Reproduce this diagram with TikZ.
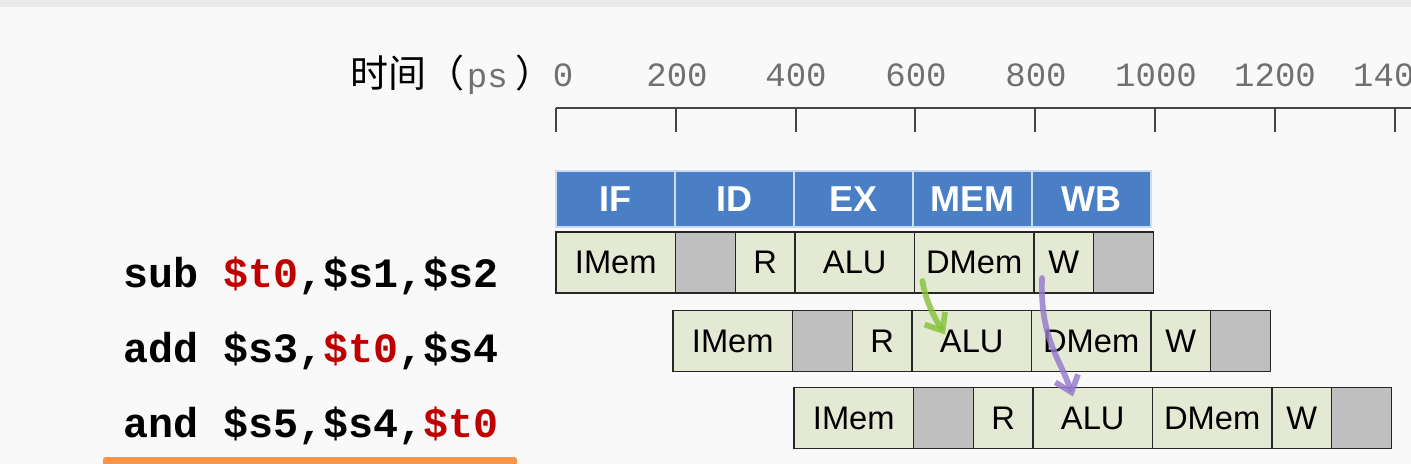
\documentclass[tikz,border=0pt]{standalone}
\usepackage{fontspec}
\setmainfont{Liberation Sans}
\newfontfamily\cjk{Noto Sans CJK SC}
\newfontfamily\mono{Liberation Mono}
\usetikzlibrary{arrows.meta,calc}
\definecolor{bgc}{HTML}{F9F9F9}
\definecolor{bandc}{HTML}{EAEAEA}
\definecolor{hdrc}{HTML}{4A7FC6}
\definecolor{hdrline}{HTML}{C8DDF5}
\definecolor{cellc}{HTML}{E4E9D4}
\definecolor{grayc}{HTML}{BFBFBF}
\definecolor{regred}{HTML}{C00000}
\definecolor{numc}{HTML}{707070}
\definecolor{axisc}{HTML}{454545}
\definecolor{orangec}{HTML}{F79646}
\definecolor{greenc}{HTML}{86C23A}
\definecolor{purplec}{HTML}{9478CC}
\tikzset{
  hdr/.style={fill=hdrc, draw=hdrline, line width=0.8pt, minimum width=89.25pt, minimum height=42pt,
    inner sep=0pt, outer sep=0pt, anchor=north west, text=white, font=\fontsize{27}{30}\selectfont\bfseries},
  cell/.style={fill=cellc, draw=black!85, line width=1.1pt, minimum height=45.75pt,
    inner sep=0pt, outer sep=0pt, anchor=west, font=\fontsize{24.5}{28}\selectfont},
  full/.style={cell, minimum width=89.625pt},
  half/.style={cell, minimum width=44.81pt},
  gcell/.style={half, fill=grayc},
  instr/.style={anchor=base west, inner sep=0pt, font=\mono\bfseries\fontsize{31.3}{34}\selectfont},
  num/.style={text=numc, inner sep=0pt, font=\mono\fontsize{25.5}{28}\selectfont},
  tick/.style={draw=axisc, line width=1.4pt},
  fwd/.style={line width=4.3pt, line cap=round, line join=round, opacity=0.82,
    -{Straight Barb[length=11pt,width=18pt,line width=4.3pt]}},
}
\newcommand{\rt}{\textcolor{regred}{\$t0}}
\begin{document}
\begin{tikzpicture}[x=0.75pt,y=-0.75pt]
\useasboundingbox (0,0) rectangle (1411,464);
\fill[bgc] (0,0) rectangle (1411,464);
\fill[bandc] (0,0) rectangle (1411,7);

% time axis
\node[anchor=west, inner sep=0pt] (tlabel) at (350,75)
  {\cjk\fontsize{28.5}{30}\selectfont 时间（\hspace{2pt}{\mono\fontsize{25.5}{28}\selectfont\color{numc}ps}\hspace{6pt}）};
\coordinate (ax0) at (556,108);
\coordinate (axend) at (1411,108);
\draw[tick] (ax0) -- (axend);
\foreach \i in {0,...,7}{
  \coordinate (t\i) at ($(556,108)+(\i*119.8,0)$);
}
\foreach \i in {0,...,7}{ \draw[tick] (t\i) -- ++(0,24); }
\node[num] (n0) at (563,75) {0};
\node[num] (n1) at (677,75) {200};
\node[num] (n2) at (796,75) {400};
\node[num] (n3) at (916,75) {600};
\node[num] (n4) at (1036,75) {800};
\node[num] (n5) at (1156,75) {1000};
\node[num] (n6) at (1275,75) {1200};
\node[num] (n7) at (1394,75) {1400};

% stage headers
\node[hdr] (hIF) at (556,171) {IF};
\node[hdr] (hID) at (hIF.north east) {ID};
\node[hdr] (hEX) at (hID.north east) {EX};
\node[hdr] (hMEM) at (hEX.north east) {MEM};
\node[hdr] (hWB) at (hMEM.north east) {WB};

% row 1
\node[full] (a1) at (556,262.5) {IMem};
\node[gcell] (a2) at (a1.east) {};
\node[half] (a3) at (a2.east) {R};
\node[full] (a4) at (a3.east) {ALU};
\node[full] (a5) at (a4.east) {DMem};
\node[half] (a6) at (a5.east) {W};
\node[gcell] (a7) at (a6.east) {};

% row 2
\node[full] (b1) at (673,341) {IMem};
\node[gcell] (b2) at (b1.east) {};
\node[half] (b3) at (b2.east) {R};
\node[full] (b4) at (b3.east) {ALU};
\node[full] (b5) at (b4.east) {DMem};
\node[half] (b6) at (b5.east) {W};
\node[gcell] (b7) at (b6.east) {};

% row 3
\node[full] (c1) at (794,418) {IMem};
\node[gcell] (c2) at (c1.east) {};
\node[half] (c3) at (c2.east) {R};
\node[full] (c4) at (c3.east) {ALU};
\node[full] (c5) at (c4.east) {DMem};
\node[half] (c6) at (c5.east) {W};
\node[gcell] (c7) at (c6.east) {};

% instructions
\node[instr] (i1) at (123,287) {sub \rt,\$s1,\$s2};
\node[instr] (i2) at (123,362) {add \$s3,\rt,\$s4};
\node[instr] (i3) at (123,437) {and \$s5,\$s4,\rt};
\fill[orangec, rounded corners=2pt] (103,457) rectangle (517,468);

% forwarding arrows
\coordinate (g0) at ([shift={(8,-12)}]a5.south west);
\coordinate (g1) at ([shift={(33,24)}]b4.north west);
\draw[fwd, greenc] (g0) .. controls ([shift={(3,20)}]g0) and ([shift={(-10,-16)}]g1) .. (g1);
\coordinate (p0) at ([shift={(8,-15)}]a6.south west);
\coordinate (p1) at ([shift={(40,9)}]c4.north west);
\draw[fwd, purplec] (p0) .. controls ([shift={(-2,60)}]p0) and ([shift={(-14,-40)}]p1) .. (p1);
\end{tikzpicture}
\end{document}
